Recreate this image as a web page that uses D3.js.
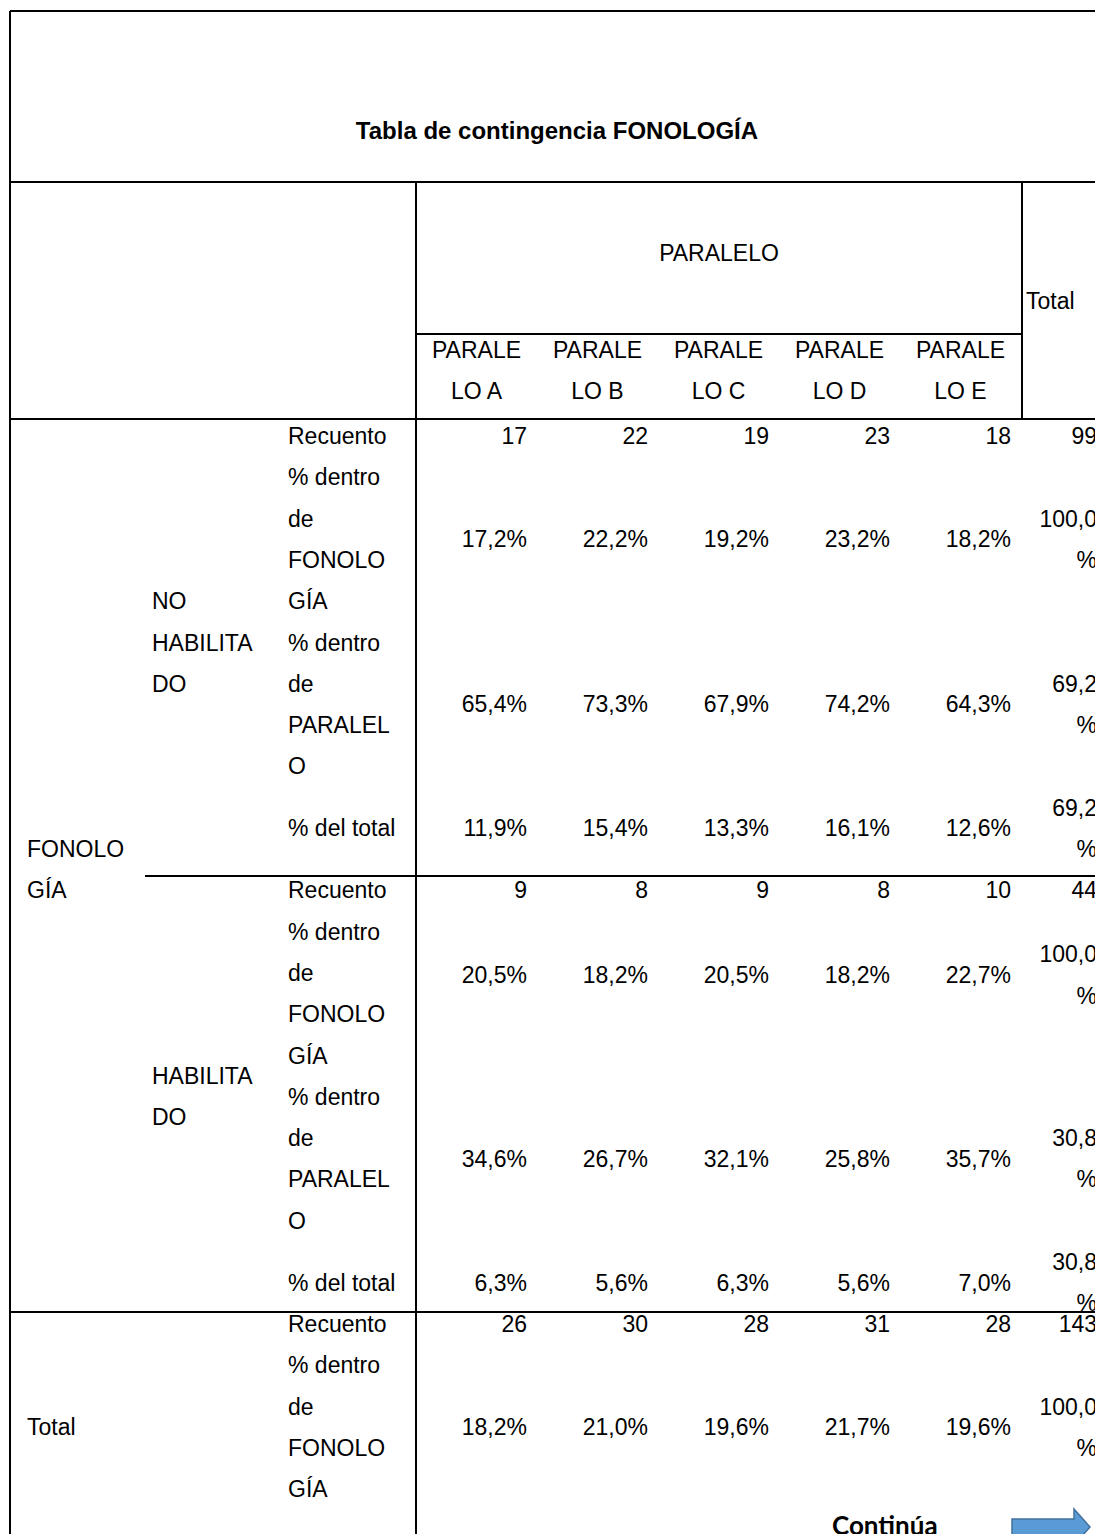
<!DOCTYPE html>
<html>
<head>
<meta charset="utf-8">
<script src="https://cdn.jsdelivr.net/npm/d3@7/dist/d3.min.js"></script>
<style>
body { margin: 0; background: #fff; }
text { font-family: "Liberation Sans", Arial, sans-serif; font-size: 23px; fill: #000; }
.title { font-weight: bold; font-size: 24px; }
.cont { font-family: Lato, "Open Sans", sans-serif; font-weight: bold; font-size: 26px; }
</style>
</head>
<body>
<div id="chart"></div>
<script>
// datos de la tabla
const titulo = 'Tabla de contingencia FONOLOGÍA';
const paralelos = ['PARALELO A', 'PARALELO B', 'PARALELO C', 'PARALELO D', 'PARALELO E'];
const variable = ['FONOLO', 'GÍA'];
const grupos = [['NO', 'HABILITA', 'DO'], ['HABILITA', 'DO'], ['Total']];
const estadisticos = [['Recuento'], ['% dentro', 'de', 'FONOLO', 'GÍA'], ['% dentro', 'de', 'PARALEL', 'O'], ['% del total']];

// ultimo valor de cada serie = columna Total
const noHabRecuento = [17, 22, 19, 23, 18, 99];
const noHabPctFono = [17.2, 22.2, 19.2, 23.2, 18.2, 100.0];
const noHabPctParalelo = [65.4, 73.3, 67.9, 74.2, 64.3, 69.2];
const noHabPctTotal = [11.9, 15.4, 13.3, 16.1, 12.6, 69.2];
const habRecuento = [9, 8, 9, 8, 10, 44];
const habPctFono = [20.5, 18.2, 20.5, 18.2, 22.7, 100.0];
const habPctParalelo = [34.6, 26.7, 32.1, 25.8, 35.7, 30.8];
const habPctTotal = [6.3, 5.6, 6.3, 5.6, 7.0, 30.8];
const totRecuento = [26, 30, 28, 31, 28, 143];
const totPctFono = [18.2, 21.0, 19.6, 21.7, 19.6, 100.0];

const bloques = [
    { grupo: grupos[0], filas: [noHabRecuento, noHabPctFono, noHabPctParalelo, noHabPctTotal] },
    { grupo: grupos[1], filas: [habRecuento, habPctFono, habPctParalelo, habPctTotal] },
    { grupo: grupos[2], filas: [totRecuento, totPctFono] },
];

const width = 1095;
const height = 1534;

const svg = d3.select('div#chart').append('svg').attr('width', width).attr('height', height);
const lineGroup = svg.append('g').attr('class', 'lineGroup');
const textGroup = svg.append('g').attr('class', 'textGroup');

// escalas: columnas de paralelos y "renglones" de texto
const x = d3.scaleBand().domain(paralelos).range([416, 1021]);
const yLine = d3.scaleLinear().domain([0, 1]).range([436, 477.3]);
const xLeft = 10, xVar = 27, xGrupo = 152, xStat = 288, xTotalEnd = 1097, xTotal = 1022;

const fmt = v => d3.format('.1f')(v).replace('.', ',') + '%';

const addText = (t, px, py, anchor, cls) => textGroup.append('text')
    .attr('class', cls || null)
    .attr('x', px).attr('y', py + 8)
    .attr('text-anchor', anchor || 'start')
    .text(t);

const addLine = (x1, y1, x2, y2) => lineGroup.append('line')
    .attr('x1', x1).attr('y1', y1).attr('x2', x2).attr('y2', y2)
    .attr('stroke', '#000').attr('stroke-width', 2);

// bordes
addLine(xLeft, 11, width, 11);
addLine(xLeft, 11, xLeft, height);
addLine(xLeft, 182, width, 182);
addLine(416, 182, 416, height);
addLine(xTotal, 182, xTotal, 419);
addLine(416, 334, xTotal, 334);
addLine(xLeft, 419, width, 419);

// titulo y cabecera
addText(titulo, 557, 131, 'middle', 'title');
addText('PARALELO', (416 + xTotal) / 2, 253, 'middle');
addText('Total', 1026, 301, 'start');
paralelos.forEach(p => {
    const cx = x(p) + x.bandwidth() / 2;
    addText(p.slice(0, 6), cx, 350, 'middle');
    addText(p.slice(6), cx, 391, 'middle');
});

// cuerpo
const inicios = [0, 11, 21.5];
const separadores = [null, 876, 1312];
const filaSlots = [
    { label: 0, valor: [0, 0, 0] },
    { label: 1, valor: [2.5, 2.05, 2.5] },
    { label: 5, valor: [6.5, 6.5, 6.5] },
    { label: 9.5, valor: [9.5, 9.5, 9.5] },
];

bloques.forEach((b, bi) => {
    const s = inicios[bi];
    if (bi > 0) addLine(bi === 1 ? 145 : xLeft, separadores[bi], width, separadores[bi]);

    // etiqueta de grupo centrada en el bloque
    const centro = bi === 2 ? s + 2.5 : s + 5;
    const g = b.grupo;
    const gx = bi === 2 ? xVar : xGrupo;
    g.forEach((t, i) => addText(t, gx, yLine(centro - (g.length - 1) / 2 + i), 'start'));

    b.filas.forEach((serie, fi) => {
        const slot = filaSlots[fi];
        const sv = slot.valor[bi];
        estadisticos[fi].forEach((t, i) => addText(t, xStat, yLine(s + slot.label + i), 'start'));
        const yv = yLine(s + sv);
        serie.slice(0, 5).forEach((v, ci) => {
            addText(fi === 0 ? v : fmt(v), x(paralelos[ci]) + x.bandwidth() - 10, yv, 'end');
        });
        const vt = serie[5];
        if (fi === 0) {
            addText(vt, xTotalEnd, yv, 'end');
        } else {
            const partes = fmt(vt).split('%');
            addText(partes[0], xTotalEnd, yLine(s + sv - 0.5), 'end');
            addText('%', xTotalEnd, yLine(s + sv + 0.5), 'end');
        }
    });
});

// variable de fila
variable.forEach((t, i) => addText(t, xVar, yLine(10 + i), 'start'));

// pie: Continúa + flecha
textGroup.append('text').attr('class', 'cont').attr('x', 832).attr('y', 1535).text('Continúa');
svg.append('path')
    .attr('d', d3.line()([[1012, 1519], [1074, 1519], [1074, 1509], [1090, 1527], [1074, 1545], [1074, 1535], [1012, 1535]]) + 'Z')
    .attr('fill', '#5b9bd5')
    .attr('stroke', '#41719c')
    .attr('stroke-width', 1.5);
</script>
</body>
</html>
